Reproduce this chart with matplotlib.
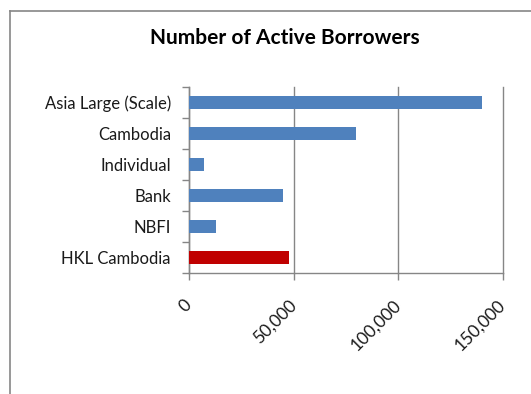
import matplotlib
matplotlib.use("Agg")
import matplotlib.pyplot as plt
from matplotlib.lines import Line2D
import numpy as np

categories = ["Asia Large (Scale)", "Cambodia", "Individual", "Bank", "NBFI", "HKL Cambodia"]
borrowers = [140000, 80000, 7000, 45000, 13000, 48000]
barColors = ["#4F81BD", "#4F81BD", "#4F81BD", "#4F81BD", "#4F81BD", "#C00000"]
xTicks = [0, 50000, 100000, 150000]
xTickLabels = ["0", "50,000", "100,000", "150,000"]

plt.rcParams["font.family"] = ["Lato", "DejaVu Sans"]

fig = plt.figure(figsize=(5.31, 3.94), dpi=100)
ax = fig.add_axes([189 / 531, 1 - 273 / 394, (503 - 189) / 531, (273 - 87) / 394])

positions = np.arange(len(categories))[::-1]
ax.barh(positions, borrowers, height=0.4, color=barColors, zorder=3)

ax.set_xlim(0, 150000)
ax.set_ylim(-0.5, len(categories) - 0.5)
ax.set_yticks(positions)
ax.set_yticklabels(categories, fontsize=12, color="#1a1a1a")
ax.tick_params(axis="y", which="major", length=0, pad=13)
ax.set_yticks(np.arange(-0.5, len(categories), 1.0), minor=True)
ax.tick_params(axis="y", which="minor", length=5, color="#868686", width=1)

ax.set_xticks(xTicks)
ax.set_xticklabels(xTickLabels, fontsize=12.5, color="#1a1a1a", rotation=45,
                   ha="right", va="center", rotation_mode="anchor")
ax.tick_params(axis="x", length=5, color="#868686", width=1, pad=16)

ax.grid(axis="x", color="#868686", linewidth=1, zorder=0)
for gl in ax.get_xgridlines():
    gl.set_clip_on(False)
for side in ["top", "right"]:
    ax.spines[side].set_visible(False)
for side in ["left", "bottom"]:
    ax.spines[side].set_color("#868686")
    ax.spines[side].set_linewidth(1)

fig.text(285 / 531, 1 - 38 / 394, "Number of Active Borrowers", fontsize=15,
         fontweight="bold", ha="center", va="center", color="#000000")

# chart area border (runs off the right and bottom edges)
fig.add_artist(Line2D([9.5 / 531, 9.5 / 531], [0, 1 - 10.5 / 394], color="#868686", linewidth=1.2))
fig.add_artist(Line2D([9.5 / 531, 1], [1 - 10.5 / 394, 1 - 10.5 / 394], color="#868686", linewidth=1.2))

fig.savefig("out.png", dpi=100)
